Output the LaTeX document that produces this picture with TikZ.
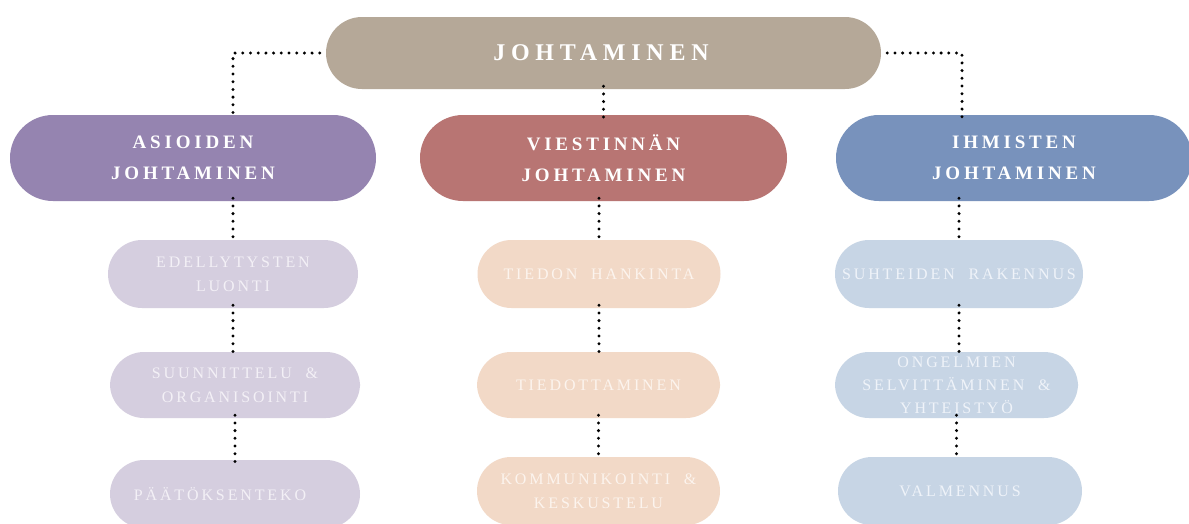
\documentclass[tikz,border=0pt]{standalone}
\usepackage{fontspec}
\setmainfont{Liberation Serif}
\newfontfamily\bigsp[LetterSpace=24]{Liberation Serif}
\newfontfamily\midsp[LetterSpace=20,WordSpace=1.6]{Liberation Serif}
\newfontfamily\smallsp[LetterSpace=18,WordSpace=2]{Liberation Serif}
\definecolor{ctop}{HTML}{B5A898}
\definecolor{cas}{HTML}{9584B0}
\definecolor{cvi}{HTML}{B87573}
\definecolor{cih}{HTML}{7892BC}
\definecolor{las}{HTML}{D5CEDF}
\definecolor{lvi}{HTML}{F2D9C7}
\definecolor{lih}{HTML}{C7D5E5}
\definecolor{tas}{HTML}{F3F0F6}
\definecolor{tvi}{HTML}{FCF4EE}
\definecolor{tih}{HTML}{EFF3F9}
\begin{document}
\begin{tikzpicture}[x=1pt,y=-1pt,
  pill/.style={inner sep=0pt, align=center, draw=none},
  topbox/.style={pill, fill=ctop, rounded corners=36pt, minimum width=555pt, minimum height=72pt,
     text=white, font=\fontsize{24}{28}\selectfont\bigsp\bfseries},
  midbox/.style={pill, rounded corners=43pt, minimum height=86pt,
     text=white, font=\fontsize{19}{31}\selectfont\midsp\bfseries},
  lowbox/.style={pill, rounded corners=34pt, minimum height=66pt,
     font=\fontsize{16}{24}\selectfont\smallsp},
  dotline/.style={line width=3.3pt, line cap=round, dash pattern=on 0pt off 7.7pt, black}
]
\clip (0,0) rectangle (1189,523);
\fill[white] (0,0) rectangle (1189,523);

\node[topbox] (top) at (603.5,53) {JOHTAMINEN\hspace{5pt}};

\node[midbox, fill=cas, minimum width=366pt] (a2) at (193,158) {ASIOIDEN\\JOHTAMINEN};
\node[midbox, fill=cvi, minimum width=367pt] (v2) at (603.5,158) {VIESTINNÄN\\JOHTAMINEN};
\node[midbox, fill=cih, minimum width=356pt] (i2) at (1014,158) {IHMISTEN\\JOHTAMINEN};

\node[lowbox, fill=las, text=tas, minimum width=250pt, minimum height=68pt] (e) at (233,274) {EDELLYTYSTEN\\LUONTI};
\node[lowbox, fill=las, text=tas, minimum width=250pt] (s) at (235,385) {SUUNNITTELU \&\\ORGANISOINTI};
\node[lowbox, fill=las, text=tas, minimum width=250pt, minimum height=68pt] (p) at (235,494) {PÄÄTÖKSENTEKO\hspace{30pt}};

\node[lowbox, fill=lvi, text=tvi, minimum width=243pt, minimum height=68pt] (t) at (599,274) {TIEDON HANKINTA};
\node[lowbox, fill=lvi, text=tvi, minimum width=243pt] (td) at (598.5,385) {TIEDOTTAMINEN};
\node[lowbox, fill=lvi, text=tvi, minimum width=243pt, minimum height=68pt] (k) at (598.5,491) {KOMMUNIKOINTI \&\\KESKUSTELU};

\node[lowbox, fill=lih, text=tih, minimum width=248pt, minimum height=68pt] (su) at (959,274) {SUHTEIDEN RAKENNUS};
\node[lowbox, fill=lih, text=tih, minimum width=243pt, font=\fontsize{16}{23}\selectfont\smallsp] (o) at (956.5,385) {ONGELMIEN\\SELVITTÄMINEN \&\\YHTEISTYÖ};
\node[lowbox, fill=lih, text=tih, minimum width=244pt, minimum height=68pt] (va) at (960,491) {VALMENNUS};

\draw[dotline] ([xshift=-6pt]top.west) -| ([yshift=-3pt]a2.north -| e.north);
\draw[dotline] ([xshift=6pt]top.east) -| ([xshift=3pt,yshift=-3pt]i2.north -| su.north);
\draw[dotline] ([yshift=3pt]top.south) -- ([yshift=-3pt]v2.north -| top.south);

\draw[dotline] ([yshift=3pt]a2.south -| e.north) -- ([yshift=-2pt]e.north);
\draw[dotline] ([yshift=3pt]v2.south -| t.north) -- ([yshift=-2pt]t.north);
\draw[dotline] ([yshift=3pt]i2.south -| su.north) -- ([yshift=-2pt]su.north);

\draw[dotline] ([yshift=3pt]e.south) -- ([yshift=-2pt]e.south |- s.north);
\draw[dotline] ([yshift=3pt]s.south) -- ([yshift=-2pt]p.north);
\draw[dotline] ([yshift=3pt]t.south) -- ([yshift=-2pt]t.south |- td.north);
\draw[dotline] ([yshift=3pt]td.south) -- ([yshift=-2pt]k.north);
\draw[dotline] ([yshift=3pt]su.south) -- ([yshift=-2pt]su.south |- o.north);
\draw[dotline] ([yshift=3pt]o.south) -- ([yshift=-2pt]o.south |- va.north);
\end{tikzpicture}
\end{document}
